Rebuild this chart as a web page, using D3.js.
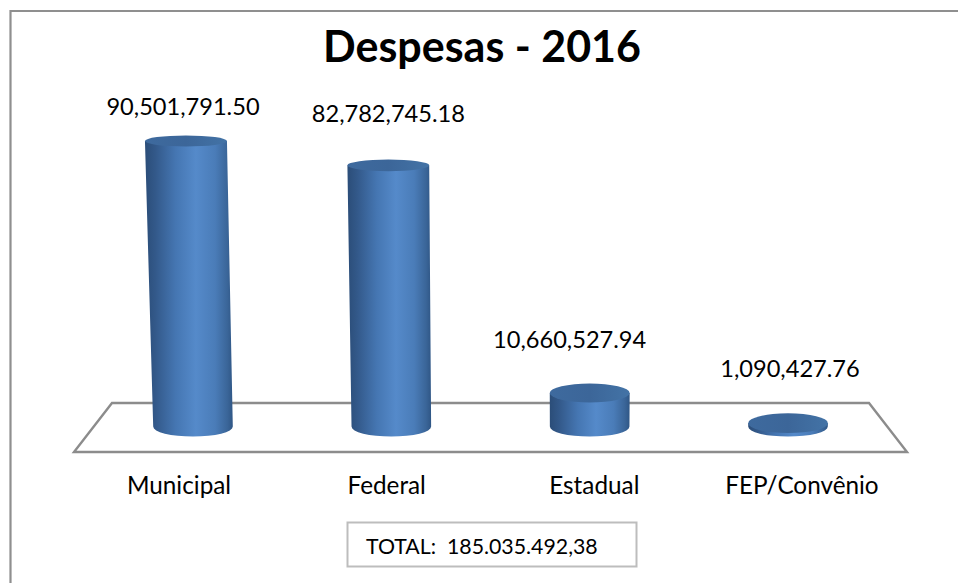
<!DOCTYPE html>
<html lang="pt">
<head>
<meta charset="utf-8">
<title>Despesas - 2016</title>
<script src="https://cdn.jsdelivr.net/npm/d3@7/dist/d3.min.js"></script>
<style>
  html, body { margin: 0; padding: 0; background: #fff; }
  svg { display: block; }
  text { font-family: Lato, "Open Sans", sans-serif; fill: #000; }
</style>
</head>
<body>
<svg id="chart" width="958" height="583"></svg>
<script>
// Spending per source for 2016
const chartTitle = "Despesas - 2016";
const categories = ["Municipal", "Federal", "Estadual", "FEP/Convênio"];
const values = [90501791.50, 82782745.18, 10660527.94, 1090427.76];

const svg = d3.select("#chart");
const width = 958, height = 583;

// Scales: value to height of the cylinder top, category to floor position
const y = d3.scaleLinear().domain([0, 90501791.50]).range([426.6, 141]);
const xBar = d3.scalePoint().domain(categories).range([193, 788]);
const xLabel = d3.scalePoint().domain(categories).range([179, 802]);

// Ellipse flattening shrinks and cylinders lean away from the vanishing point as they rise
const ryAt = d3.scaleLinear().domain([0, 90501791.50]).range([10, 5.5]);
const rxAt = d3.scaleLinear().domain([0, 90501791.50]).range([39.8, 41]);
const vanishX = 567, leanRate = 6.6e-5;
const topX = (cat, v) => {
  const x0 = xBar(cat);
  return x0 + (x0 - vanishX) * leanRate * (y(0) - y(v));
};

const fmtLabel = d3.format(",.2f");
const fmtTotal = d3.formatLocale({ decimal: ",", thousands: ".", grouping: [3], currency: ["", ""] }).format(",.2f");

// Shading definitions
const defs = svg.append("defs");
const bodyGrad = defs.append("linearGradient").attr("id", "bodyShade");
[[0, "#2b4d78"], [0.12, "#33598a"], [0.35, "#4576b2"], [0.58, "#558aca"], [0.8, "#4a7cb8"], [0.94, "#3a6598"], [1, "#2f5685"]]
  .forEach(([o, c]) => bodyGrad.append("stop").attr("offset", o).attr("stop-color", c));
const capGrad = defs.append("linearGradient").attr("id", "capShade");
[[0, "#3e6a9e"], [0.5, "#3c6699"], [1, "#4373a6"]]
  .forEach(([o, c]) => capGrad.append("stop").attr("offset", o).attr("stop-color", c));

// Outer frame: only the top and left rules are drawn
svg.append("path")
  .attr("d", `M10.5,${height} V11 H${width}`)
  .attr("fill", "none").attr("stroke", "#8f8f8f").attr("stroke-width", 2.2);

// Floor plate
svg.append("path")
  .attr("d", d3.line()([[112, 403], [869, 403], [907, 452], [74, 452]]) + "Z")
  .attr("fill", "#fff").attr("stroke", "#8c8c8c").attr("stroke-width", 2.4)
  .attr("stroke-linejoin", "miter");

// Cylinders
const data = categories.map((c, i) => ({ c, v: values[i] }));
const bars = svg.append("g").selectAll("g").data(data).join("g");

bars.append("path")
  .attr("d", d => {
    const bx = xBar(d.c), by = y(0), brx = rxAt(0), bry = ryAt(0);
    const tx = topX(d.c, d.v), ty = y(d.v), trx = rxAt(d.v), tryy = ryAt(d.v);
    return `M${tx - trx},${ty} L${bx - brx},${by} A${brx},${bry} 0 0 0 ${bx + brx},${by} L${tx + trx},${ty} Z`;
  })
  .attr("fill", "url(#bodyShade)");

bars.append("ellipse")
  .attr("cx", d => topX(d.c, d.v))
  .attr("cy", d => y(d.v))
  .attr("rx", d => rxAt(d.v))
  .attr("ry", d => ryAt(d.v))
  .attr("fill", "url(#capShade)");

// Value labels sit at hand-set offsets from their cylinders
const labelDX = [-10, -3, -20, 2];
const labelDY = [34, 52, 53, 54];
svg.append("g").selectAll("text").data(data).join("text")
  .attr("x", (d, i) => xBar(d.c) + labelDX[i])
  .attr("y", (d, i) => y(d.v) - labelDY[i])
  .attr("dy", "0.35em")
  .attr("text-anchor", "middle")
  .attr("font-size", 23.6)
  .text(d => fmtLabel(d.v));

// Category labels
svg.append("g").selectAll("text").data(categories).join("text")
  .attr("x", d => xLabel(d))
  .attr("y", 485)
  .attr("dy", "0.35em")
  .attr("text-anchor", "middle")
  .attr("font-size", 24.3)
  .text(d => d);

// Title
svg.append("text")
  .attr("x", 482).attr("y", 47)
  .attr("dy", "0.35em")
  .attr("text-anchor", "middle")
  .attr("font-size", 43)
  .attr("font-weight", 700)
  .text(chartTitle);

// Total box
svg.append("rect")
  .attr("x", 347.5).attr("y", 522.5).attr("width", 289).attr("height", 44)
  .attr("fill", "#fff").attr("stroke", "#bdbdbd").attr("stroke-width", 2);
svg.append("text")
  .attr("x", 366).attr("y", 547)
  .attr("dy", "0.35em")
  .attr("font-size", 21.3)
  .attr("xml:space", "preserve")
  .style("white-space", "pre")
  .text(`TOTAL:  ${fmtTotal(d3.sum(values))}`);
</script>
</body>
</html>
